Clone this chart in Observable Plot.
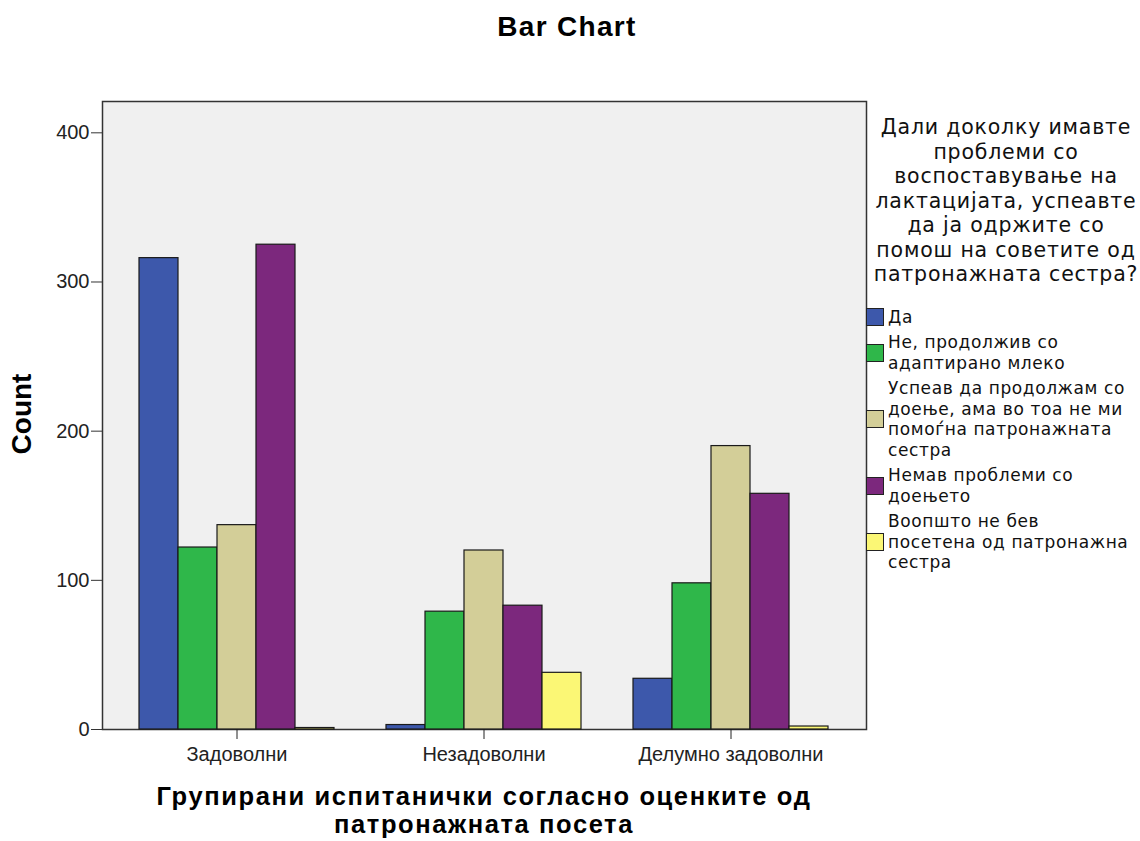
<!DOCTYPE html>
<html>
<head>
<meta charset="utf-8">
<script src="https://cdn.jsdelivr.net/npm/d3@7"></script>
<script src="https://cdn.jsdelivr.net/npm/@observablehq/plot@0.6"></script>
<style>
  html, body { margin: 0; padding: 0; background: #fff; }
  #wrap { position: relative; width: 1140px; height: 841px; overflow: hidden; font-family: "Liberation Sans", Arial, sans-serif; }
  .layer { position: absolute; left: 0; top: 0; }
  #title { position: absolute; left: 0; width: 1134px; top: 12px; text-align: center; font-weight: bold; font-size: 28px; letter-spacing: 1.3px; color: #000; line-height: 30px; }
  #ylab { position: absolute; left: 22px; top: 414px; transform: translate(-50%, -50%) rotate(-90deg); font-weight: bold; font-size: 28px; white-space: nowrap; color: #000; }
  #xlab { position: absolute; left: 84px; width: 800px; top: 783px; text-align: center; font-weight: bold; font-size: 25.5px; letter-spacing: 1.6px; line-height: 27.5px; color: #000; white-space: nowrap; }
  #legend { position: absolute; left: 866px; top: 115px; width: 274px; font-family: "DejaVu Sans", Verdana, sans-serif; color: #111; }
  #legend .lt { text-align: center; font-size: 20.5px; line-height: 24.5px; letter-spacing: 0.8px; margin-bottom: 20px; padding-left: 6px; white-space: nowrap; }
  #legend .item { display: flex; align-items: center; margin-bottom: 5px; }
  #legend .sw { width: 16px; height: 16px; border: 1.5px solid #222; flex: none; margin-right: 4px; }
  #legend .tx { font-size: 17px; line-height: 20.5px; letter-spacing: 0.6px; white-space: nowrap; }
</style>
</head>
<body>
<div id="wrap">
  <div id="title">Bar Chart</div>
  <div id="bg" class="layer"></div>
  <div id="chart" class="layer"></div>
  <div id="ylab">Count</div>
  <div id="xlab">Групирани испитанички согласно оценките од<br>патронажната посета</div>
  <div id="legend"></div>
</div>
<script>
// ---- data ----
const categories = ["Задоволни", "Незадоволни", "Делумно задоволни"];
const series = [
  "Да",
  "Не, продолжив со адаптирано млеко",
  "Успеав да продолжам со доење, ама во тоа не ми помоѓна патронажната сестра",
  "Немав проблеми со доењето",
  "Воопшто не бев посетена од патронажна сестра"
];
const legendLines = [
  ["Да"],
  ["Не, продолжив со", "адаптирано млеко"],
  ["Успеав да продолжам со", "доење, ама во тоа не ми", "помоѓна патронажната", "сестра"],
  ["Немав проблеми со", "доењето"],
  ["Воопшто не бев", "посетена од патронажна", "сестра"]
];
const legendTitle = ["Дали доколку имавте", "проблеми со", "воспоставување на", "лактацијата, успеавте", "да ја одржите со", "помош на советите од", "патронажната сестра?"];
const valuesDa = [316, 3, 34];
const valuesNe = [122, 79, 98];
const valuesUspeav = [137, 120, 190];
const valuesNemav = [325, 83, 158];
const valuesVoopshto = [1, 38, 2];
const colors = ["#3d58ab", "#2fb74a", "#d3ce98", "#7c287d", "#fbf775"];
const yTicks = [0, 100, 200, 300, 400];
const yMax = 421;

const allValues = [valuesDa, valuesNe, valuesUspeav, valuesNemav, valuesVoopshto];
const data = [];
categories.forEach((c, i) => series.forEach((s, j) => data.push({cat: c, series: s, value: allValues[j][i]})));

const common = {
  width: 1140,
  height: 841,
  marginLeft: 102,
  marginRight: 274,
  marginTop: 101,
  marginBottom: 112,
  style: {fontFamily: "'Liberation Sans', Arial, sans-serif", fontSize: "20px", color: "#222", background: "transparent", overflow: "visible"}
};

// background panel + y axis (unfaceted)
const bgPlot = Plot.plot({
  ...common,
  x: {domain: [0, 1], axis: null},
  y: {domain: [0, yMax], ticks: yTicks, tickSize: 11, tickPadding: 2, label: null, tickFormat: d3.format("d")},
  marks: [
    Plot.frame({fill: "#f0f0f0", stroke: "#333", strokeWidth: 1.5}),
    Plot.axisY({ticks: yTicks, tickSize: 11, tickPadding: 2, label: null, tickFormat: d3.format("d"), stroke: "#333"})
  ]
});
document.getElementById("bg").appendChild(bgPlot);

// grouped bars (faceted by category)
const barPlot = Plot.plot({
  ...common,
  fx: {domain: categories, paddingInner: 0.2105, paddingOuter: 0.1518, label: null, axis: "bottom", tickSize: 10, tickPadding: 7},
  x: {domain: series, padding: 0, axis: null},
  y: {domain: [0, yMax], axis: null},
  color: {domain: series, range: colors},
  marks: [
    Plot.barY(data, {fx: "cat", x: "series", y: "value", fill: "series", stroke: "#1a1a1a", strokeWidth: 1.2})
  ]
});
document.getElementById("chart").appendChild(barPlot);

// legend
const lg = document.getElementById("legend");
const t = document.createElement("div");
t.className = "lt";
t.innerHTML = legendTitle.join("<br>");
lg.appendChild(t);
series.forEach((s, j) => {
  const it = document.createElement("div");
  it.className = "item";
  const sw = document.createElement("div");
  sw.className = "sw";
  sw.style.background = colors[j];
  const tx = document.createElement("div");
  tx.className = "tx";
  tx.innerHTML = legendLines[j].join("<br>");
  it.appendChild(sw);
  it.appendChild(tx);
  lg.appendChild(it);
});
</script>
</body>
</html>
